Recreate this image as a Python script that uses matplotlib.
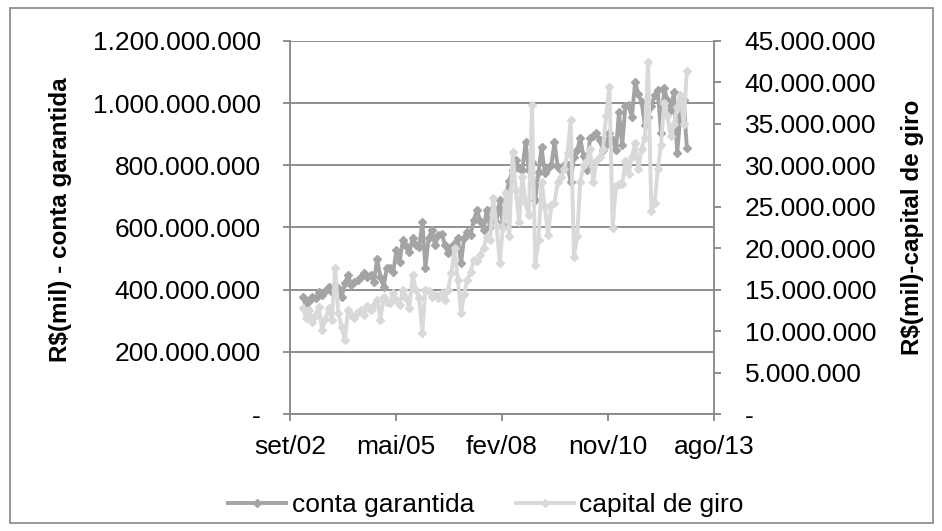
import numpy as np
import pandas as pd
import matplotlib.pyplot as plt
from matplotlib.patches import Rectangle
from matplotlib.ticker import FuncFormatter, MultipleLocator

plt.rcParams['font.family'] = ['Liberation Sans', 'DejaVu Sans']

# Monthly series, Jan/2003 - Dec/2012 (values in R$ millions of "mil")
months = pd.date_range('2003-01-01', periods=120, freq='MS')

conta_garantida = [
    376, 345, 365, 376, 373, 392, 383, 395, 408, 392,
    400, 405, 376, 420, 447, 415, 425, 431, 440, 453,
    440, 447, 424, 500, 440, 408, 469, 470, 456, 527,
    489, 559, 540, 521, 566, 545, 537, 617, 470, 566,
    592, 543, 575, 580, 545, 518, 537, 550, 566, 485,
    566, 585, 575, 624, 656, 620, 592, 656, 601, 662,
    617, 688, 608, 710, 750, 784, 817, 790, 784, 874,
    784, 810, 688, 780, 858, 775, 790, 800, 874, 794,
    784, 800, 800, 746, 826, 850, 887, 830, 784, 887,
    895, 903, 880, 849, 865, 903, 880, 849, 970, 865,
    990, 993, 955, 1067, 1030, 1003, 929, 955, 990, 1026,
    1042, 903, 1048, 1010, 977, 1035, 840, 960, 1010, 855,
]

capital_de_giro = [
    12.8, 11.6, 12.6, 11.1, 12.0, 12.9, 10.1, 11.5, 12.8, 11.4,
    17.6, 12.2, 10.5, 8.9, 12.6, 12.0, 11.6, 12.3, 12.5, 12.0,
    13.0, 12.6, 13.2, 13.8, 11.4, 14.1, 13.5, 13.4, 14.6, 13.8,
    13.2, 15.0, 14.0, 12.8, 16.8, 15.0, 14.0, 9.8, 15.0, 14.8,
    14.1, 14.4, 14.0, 14.6, 13.8, 15.0, 17.0, 20.0, 16.2, 12.2,
    14.5, 16.2, 17.1, 18.6, 18.5, 19.2, 20.0, 21.4, 21.0, 26.0,
    22.8, 18.2, 22.5, 26.7, 21.5, 31.6, 27.0, 23.2, 28.6, 25.5,
    24.0, 37.3, 18.0, 21.0, 28.0, 25.0, 21.6, 25.2, 25.5, 28.0,
    28.6, 29.5, 31.5, 35.5, 19.0, 21.5, 28.0, 30.0, 30.5, 32.0,
    28.0, 30.5, 31.0, 32.0, 36.0, 39.5, 22.5, 27.5, 27.8, 27.7,
    30.5, 29.0, 31.0, 32.7, 29.5, 32.0, 33.3, 42.5, 24.5, 25.5,
    29.5, 32.5, 37.5, 35.9, 33.5, 35.0, 37.0, 38.5, 35.0, 41.4,
]

x_ticks = pd.to_datetime('2002-09-01') + pd.to_timedelta(np.arange(5) * 1000, unit='D')
x_labels = ['set/02', 'mai/05', 'fev/08', 'nov/10', 'ago/13']

conta = np.array(conta_garantida) * 1e6
giro = np.array(capital_de_giro) * 1e6

fs = 19
fs_lab = 17.5
grey = '#868686'
c_dark = '#a4a4a4'
c_light = '#d9d9d9'


def fmt_br(v, pos):
    if abs(v) < 0.5:
        return '-'
    return f'{v:,.0f}'.replace(',', '.')


fig = plt.figure(figsize=(9.42, 5.31), dpi=100)
ax = fig.add_axes([290 / 942, 1 - 414 / 531, 424 / 942, 373 / 531])
ax2 = ax.twinx()

l1, = ax.plot(months, conta, color=c_dark, lw=2.8, marker='D', ms=3.8,
              label='conta garantida')
l2, = ax2.plot(months, giro, color=c_light, lw=2.8, marker='D', ms=3.8,
               label='capital de giro')

ax.set_xlim(pd.to_datetime('2002-09-01'), x_ticks[-1])
ax.set_xticks(x_ticks)
ax.set_xticklabels(x_labels)

ax.set_ylim(0, 1.2e9)
ax.yaxis.set_major_locator(MultipleLocator(2e8))
ax.yaxis.set_major_formatter(FuncFormatter(fmt_br))
ax2.set_ylim(0, 45e6)
ax2.yaxis.set_major_locator(MultipleLocator(5e6))
ax2.yaxis.set_major_formatter(FuncFormatter(fmt_br))

ax.grid(axis='y', color=grey, lw=1.3)
ax.set_axisbelow(True)

for a in (ax, ax2):
    a.spines['top'].set_visible(False)
    for s in ('left', 'right', 'bottom'):
        a.spines[s].set_color(grey)
        a.spines[s].set_linewidth(1.3)
ax.spines['right'].set_visible(False)
ax2.spines['left'].set_visible(False)
ax2.spines['bottom'].set_visible(False)

ax.tick_params(axis='y', direction='out', length=5, width=1.3, color=grey,
               labelsize=fs, pad=16)
ax.tick_params(axis='x', direction='out', length=5, width=1.3, color=grey,
               labelsize=fs, pad=10)
ax2.tick_params(axis='y', direction='out', length=5, width=1.3, color=grey,
                labelsize=fs, pad=17)

ax.set_ylabel('R$(mil) - conta garantida', fontsize=fs_lab, fontweight='bold',
              va='center', ha='center')
ax.yaxis.set_label_coords(-0.542, 0.52)
ax2.set_ylabel('R$(mil)-capital de giro', fontsize=fs_lab, fontweight='bold',
               va='center', ha='center', rotation=90)
ax2.yaxis.set_label_coords(1.469, 0.50)

fig.legend(handles=[l1, l2], loc='center', bbox_to_anchor=(486 / 942, 1 - 505 / 531),
           ncol=2, frameon=False, fontsize=fs, handlelength=2.2,
           handletextpad=0.2, columnspacing=1.6, numpoints=1)

# chart area border
fig.add_artist(Rectangle((10 / 942, 8 / 531), 923 / 942, 515 / 531,
                         transform=fig.transFigure, fill=False,
                         edgecolor=grey, lw=1.2))

fig.savefig('out.png', dpi=100)
